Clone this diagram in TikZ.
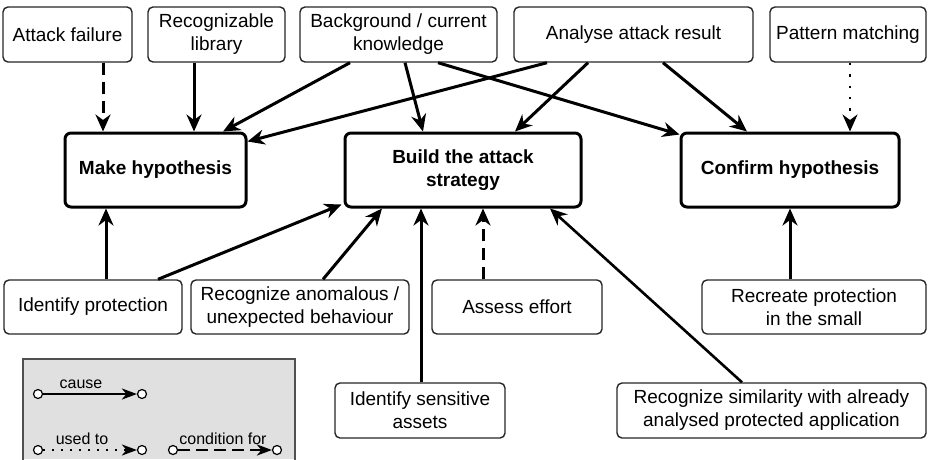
\documentclass[tikz,border=0pt]{standalone}
\usepackage{fontspec}
\setmainfont{Liberation Sans}
\usetikzlibrary{arrows.meta}
\definecolor{legfill}{RGB}{224,224,224}
\definecolor{legdraw}{RGB}{80,80,80}
\begin{document}
\begin{tikzpicture}[x=1pt,y=-1pt,
  box/.style={draw=black!85, line width=1.4pt, rounded corners=5pt, fill=white, inner sep=0pt, align=center, font=\fontsize{19}{23}\selectfont},
  bigbox/.style={draw=black, line width=3pt, rounded corners=6pt, fill=white, inner sep=0pt, align=center, font=\bfseries\fontsize{19}{23}\selectfont, minimum height=74pt},
  arr/.style={line width=3pt, -{Stealth[length=17pt,width=15pt,inset=5.5pt]}},
  dashedarr/.style={arr, dash pattern=on 12pt off 7pt},
  dottedarr/.style={arr, line width=2.4pt, dash pattern=on 2.4pt off 9pt},
  legarr/.style={line width=2.4pt, -{Stealth[length=15pt,width=11pt,inset=4.5pt]}},
  legdot/.style={circle, draw=black, line width=1.2pt, fill=white, minimum size=9pt, inner sep=0pt},
  leglabel/.style={font=\fontsize{16}{19}\selectfont, inner sep=0pt}
]
\useasboundingbox (0,0) rectangle (928,459);

% top row
\node[box, minimum width=129pt, minimum height=55pt] (af) at (67.5,34.5) {Attack failure};
\node[box, minimum width=137pt, minimum height=55pt] (rl) at (216.5,34.5) {Recognizable\\library};
\node[box, minimum width=197pt, minimum height=55pt] (bk) at (398.5,34.5) {Background / current\\knowledge};
\node[box, minimum width=239pt, minimum height=55pt] (ar) at (633.5,34.5) {Analyse attack result};
\node[box, minimum width=156pt, minimum height=55pt] (pm) at (848,34.5) {Pattern matching};

% middle row
\node[bigbox, minimum width=181pt] (mh) at (155.5,170) {Make hypothesis};
\node[bigbox, minimum width=236pt] (bs) at (463,170) {Build the attack\\strategy};
\node[bigbox, minimum width=218pt] (ch) at (790,170) {Confirm hypothesis};

% bottom rows
\node[box, minimum width=178pt, minimum height=54pt] (ip) at (93,307) {Identify protection};
\node[box, minimum width=218pt, minimum height=54pt] (ra) at (300,307) {Recognize anomalous /\\unexpected behaviour};
\node[box, minimum width=170pt, minimum height=54pt] (ae) at (517,307) {Assess effort};
\node[box, minimum width=224pt, minimum height=54pt] (rp) at (814,307) {Recreate protection\\in the small};
\node[box, minimum width=170pt, minimum height=55pt] (is) at (420,410.5) {Identify sensitive\\assets};
\node[box, minimum width=309pt, minimum height=55pt] (rs) at (771.5,410.5) {Recognize similarity with already\\analysed protected application};

% connectors from top
\draw[dashedarr] ([xshift=35.5pt]af.south) -- ([xshift=-52.5pt]mh.north);
\draw[arr] ([xshift=-22.5pt]rl.south) -- ([xshift=38.5pt]mh.north);
\draw[arr] ([xshift=-48.5pt]bk.south) -- ([xshift=67.5pt]mh.north);
\draw[arr] ([xshift=-86.5pt]ar.south) -- ([yshift=-10pt]mh.north east);
\draw[arr] ([xshift=6.5pt]bk.south) -- ([xshift=-40pt]bs.north);
\draw[arr] ([xshift=39.5pt]bk.south) -- ([yshift=-3pt]ch.north west);
\draw[arr] ([xshift=-45.5pt]ar.south) -- ([xshift=52pt]bs.north);
\draw[arr] ([xshift=29.5pt]ar.south) -- ([xshift=-43pt]ch.north);
\draw[dottedarr] ([xshift=2pt]pm.south) -- ([xshift=60pt]ch.north);

% connectors from bottom
\draw[arr] ([xshift=13pt]ip.north) -- ([xshift=-49.5pt]mh.south);
\draw[arr] ([xshift=65pt]ip.north) -- ([xshift=-2pt,yshift=4pt]bs.south west);
\draw[arr] ([xshift=23pt]ra.north) -- ([xshift=-81pt]bs.south);
\draw[arr] ([xshift=1pt]is.north) -- ([xshift=-42pt]bs.south);
\draw[dashedarr] ([xshift=-34pt]ae.north) -- ([xshift=20pt]bs.south);
\draw[arr, line width=2.6pt] ([xshift=-29.5pt]rs.north) -- ([xshift=87pt]bs.south);
\draw[arr] ([xshift=-24pt]rp.north) -- (ch.south);

% legend
\fill[legfill] (23,359) rectangle (295,459);
\draw[legdraw, line width=1.5pt] (23,460) |- (295,359) -- (295,460);
\node[legdot] (c1) at (38,394) {};
\node[legdot] (c2) at (142,394) {};
\node[legdot] (u1) at (38,450) {};
\node[legdot] (u2) at (142,450) {};
\node[legdot] (d1) at (173,450) {};
\node[legdot] (d2) at (277,450) {};
\draw[legarr] (c1) -- (c2);
\draw[legarr, line width=2pt, dash pattern=on 2pt off 7pt] (u1) -- (u2);
\draw[legarr, dash pattern=on 12pt off 6pt] (d1) -- (d2);
\node[leglabel] (lc) at (81,384) {cause};
\node[leglabel] (lu) at (82,439) {used to};
\node[leglabel] (ld) at (223,439) {condition for};
\end{tikzpicture}
\end{document}
